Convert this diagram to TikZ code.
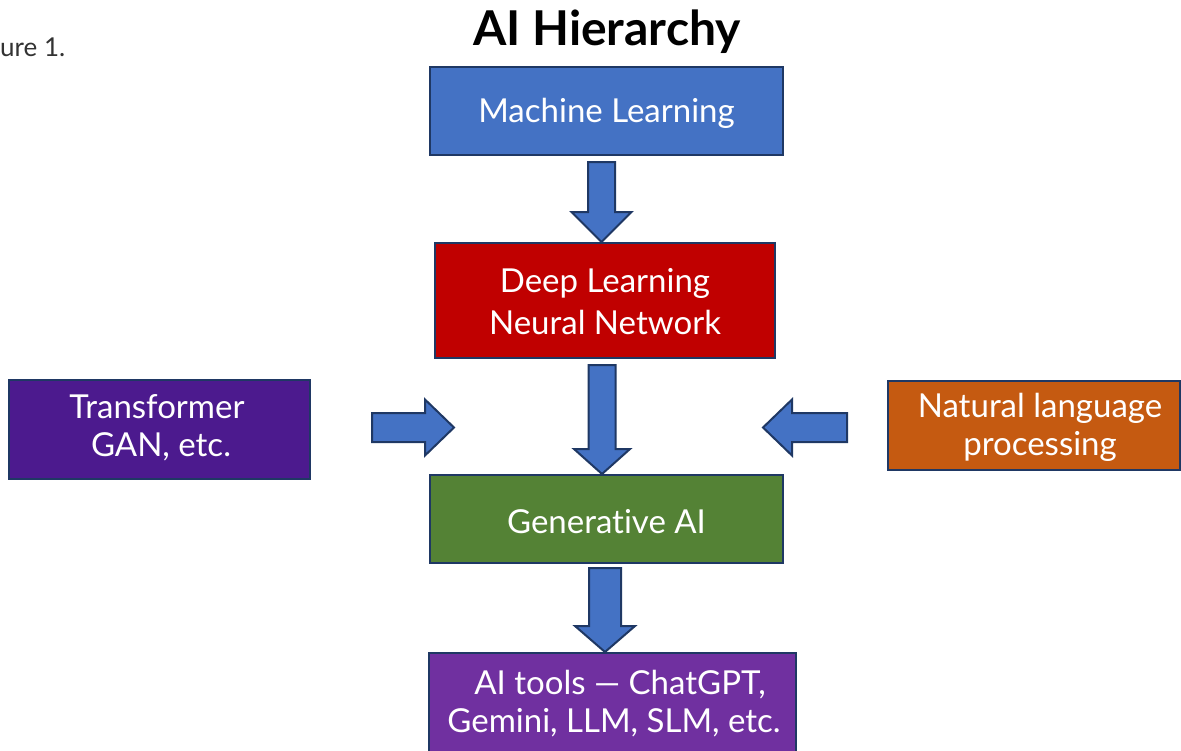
\documentclass[tikz,border=0pt]{standalone}
\usepackage{fontspec}
\setmainfont{Lato}[Ligatures={NoCommon,NoRare}]
\usetikzlibrary{calc}
\definecolor{mlblue}{HTML}{4472C4}
\definecolor{dlred}{HTML}{C00000}
\definecolor{trpurple}{HTML}{4C1A8E}
\definecolor{nlporange}{HTML}{C55A11}
\definecolor{gengreen}{HTML}{548235}
\definecolor{toolpurple}{HTML}{7030A0}
\definecolor{edge}{HTML}{1F3864}
\definecolor{capgrey}{HTML}{333333}
\tikzset{
  box/.style={draw=edge, line width=2pt, inner sep=0pt},
  btext/.style={text=white, align=center, inner sep=0pt, font=\fontsize{33}{42}\selectfont},
  stext/.style={text=white, align=center, inner sep=0pt, font=\fontsize{33}{38}\selectfont},
  barrow/.style={draw=edge, fill=mlblue, line width=2pt, line join=miter},
}
\newcommand\blockarrow[5]{%
  \coordinate (ba-h) at ($(#2)!#5!(#1)$);
  \draw[barrow] ($(#1)!#3!90:(#2)$) -- ($(ba-h)!#3!90:(#2)$) -- ($(ba-h)!#4!90:(#2)$)
    -- (#2) -- ($(ba-h)!#4!-90:(#2)$) -- ($(ba-h)!#3!-90:(#2)$) -- ($(#1)!#3!-90:(#2)$) -- cycle;}
\begin{document}
\begin{tikzpicture}[x=1pt,y=-1pt]
\useasboundingbox (0,0) rectangle (1181,750);
\clip (0,0) rectangle (1181,750);
\fill[white] (0,0) rectangle (1181,750);

\node[anchor=base west, text=capgrey, inner sep=0pt, font=\fontsize{26}{30}\selectfont] (cap) at (0,56) {ure 1.};
\node[anchor=base, inner sep=0pt, font=\fontsize{48}{56}\bfseries\selectfont] (title) at (607,45) {AI Hierarchy};

\node[box, fill=mlblue, minimum width=353pt, minimum height=88pt] (ml) at (606.5,111) {};
\node[box, fill=dlred, minimum width=340pt, minimum height=115pt] (dl) at (605,300.5) {};
\node[box, fill=trpurple, minimum width=301pt, minimum height=99pt] (tr) at (159.5,429.5) {};
\node[box, fill=nlporange, minimum width=292pt, minimum height=89pt] (nlp) at (1034,425.5) {};
\node[box, fill=gengreen, minimum width=353pt, minimum height=88pt] (gen) at (606.5,519) {};
\node[box, fill=toolpurple, minimum width=367pt, minimum height=120pt, anchor=north] (tools) at (612.5,652) {};

\node[btext] (mlt) at ($(ml.center)+(0,2)$) {Machine Learning};
\node[btext] (dlt) at ($(dl.center)+(0,1.5)$) {Deep Learning\\Neural Network};
\node[stext] (trt) at (157,428) {Transformer\\\hspace*{8pt}GAN, etc.};
\node[stext] (nlpt) at (1040,427) {Natural language\\processing};
\node[btext] (gent) at ($(gen.center)+(0,3)$) {Generat\kern0pt ive AI};
\node[stext] (toolst) at (614,704) {\hspace*{12pt}AI tools — ChatGPT,\\Gemini, LLM, SLM, etc.};

% arrow end points
\coordinate (a1s) at (601.5,162);
\coordinate (a1t) at (dl.north -| a1s);
\coordinate (a2s) at (602,365);
\coordinate (a2t) at (gen.north -| a2s);
\coordinate (a3s) at (372,427.5);
\coordinate (a3t) at (454,427.5);
\coordinate (a4s) at (847,427.5);
\coordinate (a4t) at (763,427.5);
\coordinate (a5s) at (605,568);
\coordinate (a5t) at (tools.north -| a5s);

\blockarrow{a1s}{a1t}{13.5pt}{30pt}{30pt}
\blockarrow{a2s}{a2t}{13.5pt}{28pt}{25pt}
\blockarrow{a3s}{a3t}{14.5pt}{28pt}{29pt}
\blockarrow{a4s}{a4t}{14.5pt}{28pt}{29pt}
\blockarrow{a5s}{a5t}{16pt}{30pt}{26pt}
\end{tikzpicture}
\end{document}
